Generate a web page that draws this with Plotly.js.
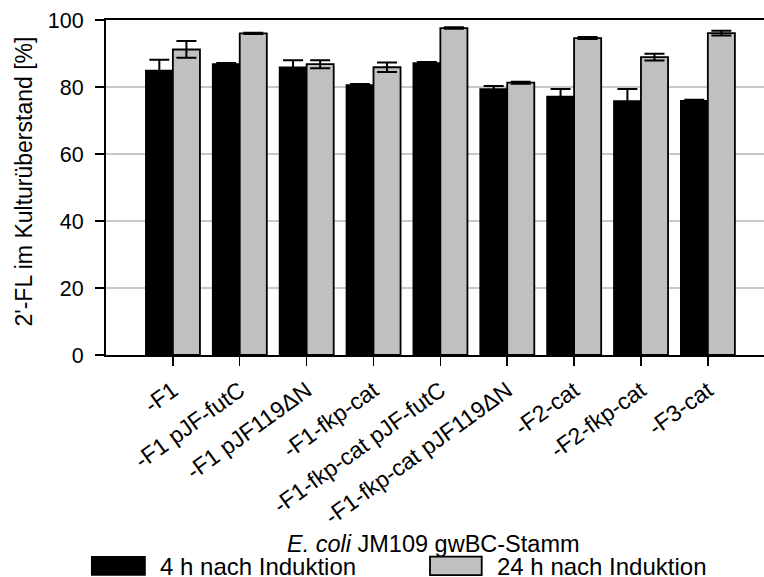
<!DOCTYPE html>
<html>
<head>
<meta charset="utf-8">
<script src="https://cdn.plot.ly/plotly-3.0.1.min.js"></script>
<style>html,body{margin:0;padding:0;background:#fff;}#chart{width:764px;height:577px;}</style>
</head>
<body>
<div id="chart"></div>
<script>
// Data
const categories = ["-F1", "-F1 pJF-futC", "-F1 pJF119\u0394N", "-F1-fkp-cat", "-F1-fkp-cat pJF-futC", "-F1-fkp-cat pJF119\u0394N", "-F2-cat", "-F2-fkp-cat", "-F3-cat"];
const values4h = [84.9, 86.9, 85.9, 80.6, 87.2, 79.4, 77.2, 75.8, 75.9];
const errors4h = [3.2, 0.3, 2.1, 0.3, 0.3, 0.9, 2.2, 3.6, 0.3];
const values24h = [91.2, 96.0, 86.8, 85.9, 97.6, 81.3, 94.6, 88.9, 96.1];
const errors24h = [2.5, 0.2, 1.2, 1.4, 0.2, 0.3, 0.3, 1.0, 0.7];
const seriesNames = ["4 h nach Induktion", "24 h nach Induktion"];
const yTickVals = [0, 20, 40, 60, 80, 100];

const FONT = "Liberation Sans, Arial, sans-serif";
const idx = categories.map((_, i) => i);

const traces = [
  {
    type: "bar", name: seriesNames[0], x: idx, y: values4h,
    marker: {color: "#000000", line: {color: "#000000", width: 1.5}},
    error_y: {type: "data", array: errors4h, visible: true, color: "#000000", thickness: 2, width: 10},
    showlegend: false
  },
  {
    type: "bar", name: seriesNames[1], x: idx, y: values24h,
    marker: {color: "#c0c0c0", line: {color: "#000000", width: 1.8}},
    error_y: {type: "data", array: errors24h, visible: true, color: "#000000", thickness: 2, width: 10},
    showlegend: false
  }
];

const layout = {
  width: 764, height: 577,
  margin: {l: 106, r: 0, t: 20, b: 222},
  paper_bgcolor: "#ffffff", plot_bgcolor: "#ffffff",
  font: {family: FONT, color: "#000", size: 21},
  barmode: "group", bargap: 0.19, bargroupgap: 0,
  showlegend: false,
  xaxis: {
    type: "linear", range: [-1.0, 8.84],
    tickmode: "array", tickvals: idx, ticktext: categories,
    tickangle: -36, ticks: "outside", ticklen: 9, tickwidth: 1.5, tickcolor: "#000",
    tickfont: {size: 23, family: FONT, color: "#000"},
    ticklabelstandoff: 2,
    showline: true, linecolor: "#000", linewidth: 2, mirror: true,
    showgrid: false, zeroline: false, automargin: false
  },
  yaxis: {
    range: [0, 100], tickmode: "array", tickvals: yTickVals,
    ticks: "outside", ticklen: 9, tickwidth: 1.5, tickcolor: "#000",
    tickfont: {size: 21.5, family: FONT, color: "#000"},
    ticklabelstandoff: 7,
    showline: true, linecolor: "#000", linewidth: 2,
    showgrid: true, gridcolor: "#c8c8c8", gridwidth: 1.5,
    zeroline: false, automargin: false
  },
  annotations: [
    {text: "2'-FL im Kulturüberstand [%]", xref: "paper", yref: "paper", x: 0, y: 0.518,
     xshift: -82, textangle: -90, showarrow: false, xanchor: "center", yanchor: "middle",
     font: {size: 23, family: FONT, color: "#000"}},
    {text: "<i>E. coli</i> JM109 gwBC-Stamm", xref: "paper", yref: "paper", x: 0.4975, y: -0.565,
     showarrow: false, xanchor: "center", yanchor: "middle",
     font: {size: 23.5, family: FONT, color: "#000"}},
    {text: seriesNames[0], xref: "paper", yref: "paper", x: 0.079, y: -0.632,
     showarrow: false, xanchor: "left", yanchor: "middle",
     font: {size: 24, family: FONT, color: "#000"}},
    {text: seriesNames[1], xref: "paper", yref: "paper", x: 0.5912, y: -0.632,
     showarrow: false, xanchor: "left", yanchor: "middle",
     font: {size: 24, family: FONT, color: "#000"}}
  ],
  shapes: [
    {type: "rect", xref: "paper", yref: "paper", x0: -0.0217, x1: 0.0593, y0: -0.657, y1: -0.602,
     fillcolor: "#000000", line: {color: "#000000", width: 1.5}},
    {type: "rect", xref: "paper", yref: "paper", x0: 0.4924, x1: 0.571, y0: -0.657, y1: -0.602,
     fillcolor: "#c0c0c0", line: {color: "#000000", width: 1.8}}
  ]
};

Plotly.newPlot("chart", traces, layout, {displayModeBar: false, staticPlot: true});
</script>
</body>
</html>
